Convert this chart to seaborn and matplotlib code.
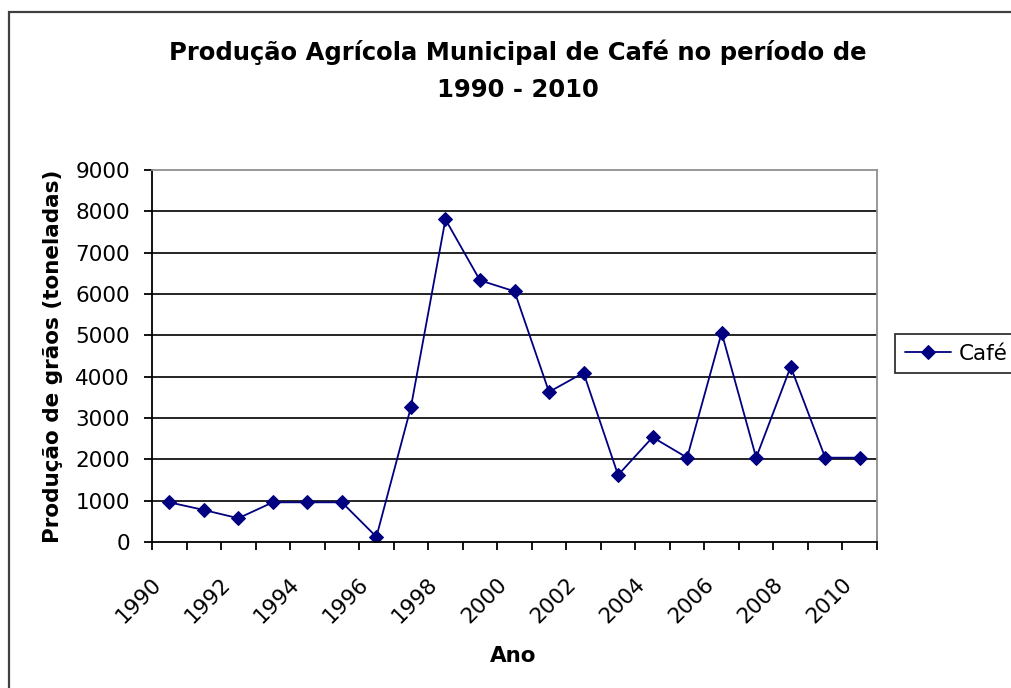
import numpy as np
import pandas as pd
import matplotlib
matplotlib.use("Agg")
import matplotlib.pyplot as plt
import matplotlib.transforms as mtransforms
from matplotlib.patches import Rectangle
import seaborn as sns

# ---- data ----
years = list(range(1990, 2011))
producao = [960, 775, 575, 960, 960, 960, 125, 3265, 7805, 6330, 6065,
            3630, 4095, 1620, 2535, 2040, 5065, 2040, 4240, 2040, 2040]
yticks = list(range(0, 9001, 1000))
xtick_years = years[::2]
title_line1 = "Produção Agrícola Municipal de Café no período de"
title_line2 = "1990 - 2010"
ylabel = "Produção de grãos (toneladas)"
xlabel = "Ano"
series_name = "Café"

sns.set_theme(style="white")
plt.rcParams["font.family"] = ["DejaVu Sans"]
for k in ["text.color", "axes.labelcolor", "xtick.color", "ytick.color"]:
    plt.rcParams[k] = "black"

W, H = 1011, 688
fig = plt.figure(figsize=(W / 100, H / 100), dpi=100)
fig.patch.set_facecolor("white")

L, R, T, B = 152, 877, 170, 542
ax = fig.add_axes([L / W, 1 - B / H, (R - L) / W, (B - T) / H])

pos = np.arange(len(years))
df = pd.DataFrame({"pos": pos, "valor": producao})
sns.lineplot(data=df, x="pos", y="valor", ax=ax, color="#000080",
             marker="D", markersize=7, markeredgecolor="#000080",
             linewidth=1.3, label=series_name)

FS = 15.5
ax.set_xlim(-0.5, len(years) - 0.5)
ax.set_ylim(0, 9000)
ax.set_yticks(yticks)
ax.set_yticklabels([str(v) for v in yticks], fontsize=FS)

ax.set_xticks(np.arange(-0.5, len(years), 1.0))
ax.set_xticklabels([])
idx = [years.index(y) for y in xtick_years]
ax.set_xticks(idx, minor=True)
ax.set_xticklabels([str(y) for y in xtick_years], minor=True, fontsize=FS,
                   rotation=45, ha="right", va="center", rotation_mode="anchor")
ax.tick_params(axis="x", which="major", direction="out", length=6, width=1.3,
               color="black", bottom=True)
ax.tick_params(axis="x", which="minor", length=0, pad=28, bottom=True)
ax.tick_params(axis="y", direction="out", length=6, width=1.3, color="black",
               left=True, pad=10)
offset = mtransforms.ScaledTranslation(-11 / 100, 0, fig.dpi_scale_trans)
for lab in ax.xaxis.get_minorticklabels():
    lab.set_transform(lab.get_transform() + offset)

ax.yaxis.grid(True, color="black", linewidth=1.2)
ax.xaxis.grid(False)
ax.set_axisbelow(True)
ax.get_ygridlines()[-1].set_visible(False)
ax.get_ygridlines()[0].set_visible(False)

for s in ["left", "bottom"]:
    ax.spines[s].set_color("black")
    ax.spines[s].set_linewidth(1.3)
for s in ["top", "right"]:
    ax.spines[s].set_color("#909090")
    ax.spines[s].set_linewidth(1.3)

ax.set_ylabel(ylabel, fontsize=FS, fontweight="bold")
ax.yaxis.set_label_coords((63 - L) / (R - L), 0.5)
ax.set_xlabel(xlabel, fontsize=FS, fontweight="bold")
ax.xaxis.set_label_coords((513 - L) / (R - L), -(646 - B) / (B - T))

fig.text(518 / W, 1 - 52 / H, title_line1, ha="center", va="center",
         fontsize=17.5, fontweight="bold")
fig.text(518 / W, 1 - 90 / H, title_line2, ha="center", va="center",
         fontsize=17.5, fontweight="bold")

leg = ax.legend(loc="upper left", bbox_to_anchor=(895 / W, 1 - 334 / H),
                bbox_transform=fig.transFigure, frameon=True, fancybox=False,
                fontsize=FS, handlelength=2.15, borderpad=0.45,
                handletextpad=0.35, borderaxespad=0)
leg.get_frame().set_edgecolor("black")
leg.get_frame().set_linewidth(1.3)
leg.get_frame().set_facecolor("white")

fig.add_artist(Rectangle((9 / W, -0.5), 2.0, 1.5 - 12 / H,
                         transform=fig.transFigure, fill=False,
                         edgecolor="#404040", linewidth=1.6))

fig.savefig("out.png", dpi=100)
